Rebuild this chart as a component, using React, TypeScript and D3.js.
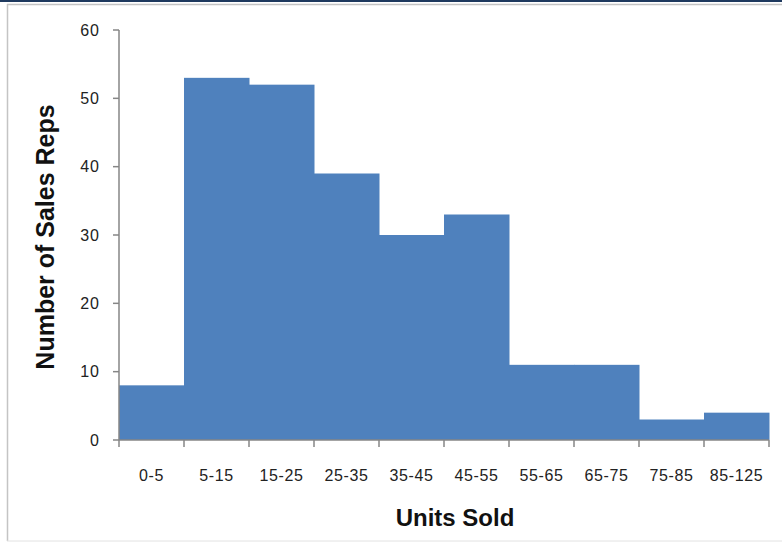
import React from "react";
import * as d3 from "d3";

const categories = ["0-5", "5-15", "15-25", "25-35", "35-45", "45-55", "55-65", "65-75", "75-85", "85-125"];
const counts = [8, 53, 52, 39, 30, 33, 11, 11, 3, 4];
const yTicks = [0, 10, 20, 30, 40, 50, 60];

const W = 782;
const H = 544;
const left = 119;
const right = 769;
const top = 30;
const bottom = 440;
const axisColor = "#868686";
const barColor = "#4F81BD";
const font = "'Liberation Sans', Arial, sans-serif";

export default function App() {
  const x = d3.scaleBand<string>().domain(categories).range([left, right]).padding(0);
  const y = d3.scaleLinear().domain([0, 60]).range([bottom, top]);
  const bw = x.bandwidth();

  return (
    <svg width={W} height={H} style={{ position: "absolute", left: 0, top: 0, background: "#fff" }}>
      <rect x={0} y={0} width={W} height={H} fill="#fff" />
      <rect x={0} y={0} width={W} height={2} fill="#1F3A5F" />
      <line x1={7} x2={W} y1={4.5} y2={4.5} stroke="#c4c4c4" strokeWidth={1.5} />
      <line x1={7.5} x2={7.5} y1={4} y2={H - 3} stroke="#c4c4c4" strokeWidth={1.5} />
      <line x1={7} x2={W} y1={H - 3} y2={H - 3} stroke="#e2e2e2" strokeWidth={1} />

      {categories.map((c, i) => (
        <rect key={c} x={x(c)!} y={y(counts[i])} width={bw + 0.5} height={bottom - y(counts[i])} fill={barColor} />
      ))}

      {/* Y axis */}
      <line x1={left} x2={left} y1={top} y2={bottom} stroke={axisColor} strokeWidth={1.5} />
      {yTicks.map((t) => (
        <g key={t}>
          <line x1={left - 6} x2={left} y1={y(t)} y2={y(t)} stroke={axisColor} strokeWidth={1.5} />
          <text x={100} y={y(t)} dy="0.36em" textAnchor="end" fontFamily={font} fontSize={16} fill="#222" letterSpacing={1}>
            {t}
          </text>
        </g>
      ))}

      {/* X axis */}
      <line x1={left} x2={right} y1={bottom} y2={bottom} stroke={axisColor} strokeWidth={1.5} />
      {[...categories.map((c) => x(c)!), right].map((px, i) => (
        <line key={i} x1={px} x2={px} y1={bottom} y2={bottom + 7} stroke={axisColor} strokeWidth={1.5} />
      ))}
      {categories.map((c) => (
        <text key={c} x={x(c)! + bw / 2} y={481} textAnchor="middle" fontFamily={font} fontSize={16} fill="#222" letterSpacing={0.6}>
          {c}
        </text>
      ))}

      <text x={455} y={526} textAnchor="middle" fontFamily={font} fontSize={24} fontWeight="bold" fill="#111">
        Units Sold
      </text>
      <text
        transform={`translate(54, 237) rotate(-90)`}
        textAnchor="middle"
        fontFamily={font}
        fontSize={25}
        fontWeight="bold"
        fill="#111"
      >
        Number of Sales Reps
      </text>
    </svg>
  );
}
